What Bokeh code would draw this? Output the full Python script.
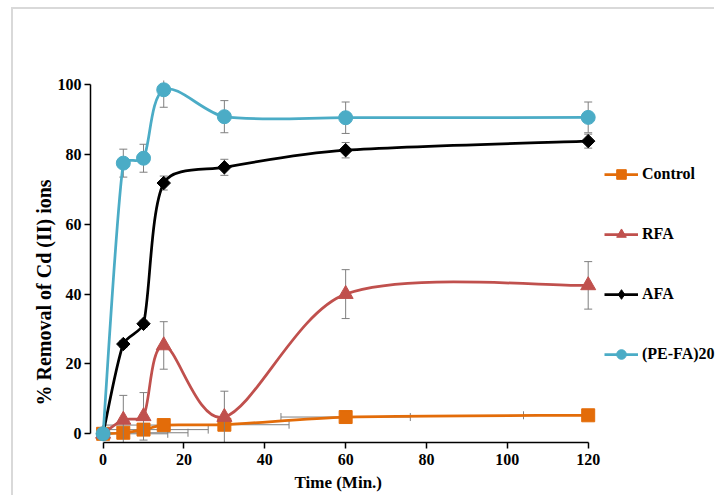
import math
import numpy as np
from bokeh.plotting import figure
from bokeh.models import Range1d, FixedTicker, Legend, LegendItem, Title
from bokeh.embed import file_html
from bokeh.resources import INLINE

# ---------------- data ----------------
time = [0, 5, 10, 15, 30, 60, 120]
control = [0.0, 0.3, 1.2, 2.5, 2.6, 4.8, 5.3]
control_xerr = [16, 16, 16, 16, 16, 16, 16]
rfa = [0.0, 4.0, 5.0, 25.3, 4.8, 40.0, 42.5]
rfa_err = [0.0, 7.0, 6.8, 6.8, 7.4, 7.0, 6.8]
afa = [0.0, 25.7, 31.5, 71.8, 76.3, 81.2, 83.8]
afa_err = [0.0, 1.0, 1.0, 2.0, 2.3, 2.2, 2.0]
pefa = [0.0, 77.5, 78.9, 98.5, 90.8, 90.5, 90.6]
pefa_err = [0.0, 4.0, 4.0, 5.0, 4.6, 4.5, 4.4]
x_ticks = [0, 20, 40, 60, 80, 100, 120]
y_ticks = [0, 20, 40, 60, 80, 100]
series_names = ["Control", "RFA", "AFA", "(PE-FA)20"]
x_title = "Time (Min.)"
y_title = "% Removal of Cd (II) ions"

FONT = "Liberation Serif"
ERR_COLOR = "#7f7f7f"

# ---------------- geometry ----------------
W, H = 703, 488
BL, BR, BT, BB = 77, 0, 71, 55
X0, X1 = -3.117, 151.74
Y0, Y1 = -2.49, 101.16
KX = (W - BL - BR) / (X1 - X0)   # px per x unit
KY = (H - BT - BB) / (Y1 - Y0)   # px per y unit


def smooth_segments(xs, ys, t=1.0 / 6.0, k=0.3):
    """Excel-like smoothed line as cubic Bezier segments (limited Catmull-Rom, screen space)."""
    n = len(xs)
    X = [x * KX for x in xs]
    Y = [y * KY for y in ys]
    ex = [X[0]] + X + [X[-1]]
    ey = [Y[0]] + Y + [Y[-1]]
    out = dict(x0=[], y0=[], x1=[], y1=[], cx0=[], cy0=[], cx1=[], cy1=[])
    for i in range(n - 1):
        ax, ay = ex[i + 1], ey[i + 1]
        bx, by = ex[i + 2], ey[i + 2]
        seg = math.hypot(bx - ax, by - ay)
        t0x, t0y = (ex[i + 2] - ex[i]) * t, (ey[i + 2] - ey[i]) * t
        t1x, t1y = (ex[i + 3] - ex[i + 1]) * t, (ey[i + 3] - ey[i + 1]) * t
        d0 = math.hypot(t0x, t0y)
        d1 = math.hypot(t1x, t1y)
        if d0 > k * seg and d0 > 0:
            s = k * seg / d0
            t0x, t0y = t0x * s, t0y * s
        if d1 > k * seg and d1 > 0:
            s = k * seg / d1
            t1x, t1y = t1x * s, t1y * s
        out["x0"].append(ax / KX); out["y0"].append(ay / KY)
        out["x1"].append(bx / KX); out["y1"].append(by / KY)
        out["cx0"].append((ax + t0x) / KX); out["cy0"].append((ay + t0y) / KY)
        out["cx1"].append((bx - t1x) / KX); out["cy1"].append((by - t1y) / KY)
    return out


p = figure(width=W, height=H, x_range=Range1d(X0, X1), y_range=Range1d(Y0, Y1),
           output_backend="svg", toolbar_location=None,
           min_border_left=BL, min_border_right=BR, min_border_top=BT, min_border_bottom=BB)
p.styles = {"margin-left": "11px", "margin-top": "7px",
            "border-left": "2px solid #d9d9d9", "border-top": "2px solid #d9d9d9"}
p.outline_line_color = None
p.xgrid.visible = False
p.ygrid.visible = False
p.background_fill_color = "white"
p.border_fill_color = "white"

for ax, ticks, bnds in ((p.xaxis[0], x_ticks, (0, 120)), (p.yaxis[0], y_ticks, (0, 100))):
    ax.ticker = FixedTicker(ticks=ticks)
    ax.bounds = bnds
    ax.axis_line_color = "black"
    ax.axis_line_width = 1.5
    ax.major_tick_line_color = "black"
    ax.major_tick_line_width = 1.5
    ax.major_tick_out = 6
    ax.major_tick_in = 0
    ax.minor_tick_line_color = None
    ax.major_label_text_font = FONT
    ax.major_label_text_font_style = "bold"
    ax.major_label_text_font_size = "16px"
    ax.major_label_text_color = "black"
p.xaxis[0].major_label_standoff = 5
p.yaxis[0].major_label_standoff = 3


def vert_errbars(xs, ys, es):
    xx = [x for x, e in zip(xs, es) if e > 0]
    lo = [y - e for y, e in zip(ys, es) if e > 0]
    hi = [y + e for y, e in zip(ys, es) if e > 0]
    p.segment(x0=xx, y0=lo, x1=xx, y1=hi, line_color=ERR_COLOR, line_width=1)
    p.scatter(x=xx + xx, y=lo + hi, marker="dash", size=8, line_color=ERR_COLOR, line_width=1)


def horiz_errbars(xs, ys, es, xmin=0, xmax=120):
    lo = [max(x - e, xmin) for x, e in zip(xs, es)]
    hi = [min(x + e, xmax) for x, e in zip(xs, es)]
    p.segment(x0=lo, y0=ys, x1=hi, y1=ys, line_color=ERR_COLOR, line_width=1)
    cx = [x - e for x, e in zip(xs, es) if x - e >= xmin] + [x + e for x, e in zip(xs, es) if x + e <= xmax]
    cy = [y for x, y, e in zip(xs, ys, es) if x - e >= xmin] + [y for x, y, e in zip(xs, ys, es) if x + e <= xmax]
    p.scatter(x=cx, y=cy, marker="dash", angle=np.pi / 2, size=8, line_color=ERR_COLOR, line_width=1)


# name, values, colour, marker, size, angle, legend-marker
specs = [
    ("Control", control, "#e36c09", "square", 13, 0.0, "square"),
    ("RFA", rfa, "#c0504d", "triangle", 15, 0.0, "triangle"),
    ("AFA", afa, "#000000", "square", 9.5, np.pi / 4, "diamond"),
    ("(PE-FA)20", pefa, "#4bacc6", "circle", 14, 0.0, "circle"),
]
errs = {"RFA": rfa_err, "AFA": afa_err, "(PE-FA)20": pefa_err}

legend_items = []
for name, ys, color, marker, msize, ang, lmarker in specs:
    if name == "Control":
        horiz_errbars(time, ys, control_xerr)
    else:
        vert_errbars(time, ys, errs[name])
    seg = smooth_segments(time, ys)
    line_r = p.bezier(x0=seg["x0"], y0=seg["y0"], x1=seg["x1"], y1=seg["y1"],
                      cx0=seg["cx0"], cy0=seg["cy0"], cx1=seg["cx1"], cy1=seg["cy1"],
                      line_color=color, line_width=2.75)
    # small marker renderer (covered by the real markers) used as the legend key
    key_r = p.scatter(x=time, y=ys, marker=lmarker, size=5, fill_color=color, line_color=color)
    p.scatter(x=time, y=ys, marker=marker, size=msize, angle=ang,
              fill_color=color, line_color=color, line_width=1)
    legend_items.append(LegendItem(label=name, renderers=[line_r, key_r]))

legend = Legend(items=legend_items, location=(514, 76), orientation="vertical",
                glyph_width=34, glyph_height=24, label_height=20, label_width=20,
                spacing=36, padding=0, margin=0, label_standoff=4,
                border_line_color=None, background_fill_alpha=0,
                label_text_font=FONT, label_text_font_style="bold",
                label_text_font_size="16px", label_text_color="black")
p.add_layout(legend)

p.add_layout(Title(text=x_title, align="left", offset=204, standoff=6,
                   text_font=FONT, text_font_style="bold", text_font_size="17px",
                   text_color="black"), "below")
p.add_layout(Title(text=y_title, align="left", offset=37, standoff=0,
                   text_font=FONT, text_font_style="bold", text_font_size="20px",
                   text_color="black"), "left")

open("out.html", "w").write(file_html(p, INLINE))
